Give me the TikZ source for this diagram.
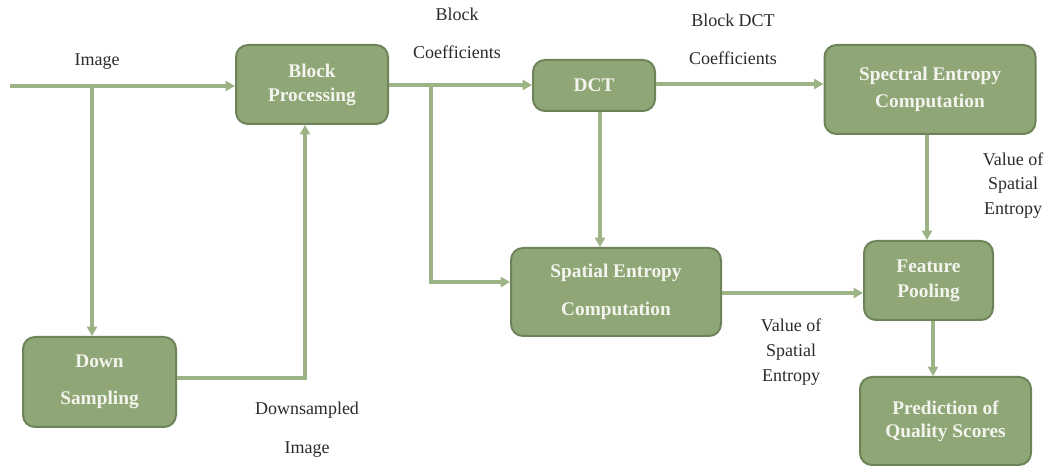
\documentclass[tikz,border=0pt]{standalone}
\usepackage{fontspec}
\setmainfont{Liberation Serif}
\usetikzlibrary{arrows.meta}
\definecolor{boxfill}{HTML}{8FA676}
\definecolor{boxedge}{HTML}{6D8358}
\definecolor{flow}{HTML}{9CB386}
\definecolor{boxtext}{HTML}{F4F4EE}
\definecolor{labeltext}{HTML}{2A2A2A}
\newcommand{\boxfont}[1]{\bfseries\fontsize{14.5}{#1}\selectfont}
\newcommand{\lblfont}[1]{\fontsize{13.5}{#1}\selectfont}
\begin{document}
\begin{tikzpicture}[x=0.75pt,y=-0.75pt,
  procbox/.style={draw=boxedge,line width=1.5pt,fill=boxfill,rounded corners=9pt,
    text=boxtext,align=center,inner sep=0pt,minimum width=#1},
  flowline/.style={draw=flow,line width=2.5pt,-{Triangle[length=7pt,width=7.5pt]}},
  lbl/.style={text=labeltext,align=center,inner sep=0pt}]
\useasboundingbox (0,0) rectangle (1053,466);

% process boxes
\node[procbox=152*0.75pt,minimum height=79*0.75pt,font=\boxfont{18}] (bp) at (312,84.5) {Block\\Processing};
\node[procbox=122*0.75pt,minimum height=51*0.75pt,font=\boxfont{18}] (dct) at (594,85.5) {DCT};
\node[procbox=211*0.75pt,minimum height=89*0.75pt,font=\boxfont{20.5}] (spec) at (930,89.5) {Spectral Entropy\\Computation};
\node[procbox=210*0.75pt,minimum height=88*0.75pt,font=\boxfont{28}] (spat) at (616,292) {Spatial Entropy\\Computation};
\node[procbox=129*0.75pt,minimum height=79*0.75pt,font=\boxfont{19}] (fp) at (928.5,280.5) {Feature\\Pooling};
\node[procbox=153*0.75pt,minimum height=90*0.75pt,font=\boxfont{28}] (ds) at (99.5,382) {Down\\Sampling};
\node[procbox=171*0.75pt,minimum height=88*0.75pt,font=\boxfont{17}] (pq) at (945.5,421) {Prediction of\\Quality Scores};

% junction points
\coordinate (in) at (10,86);
\coordinate (j1) at (92,86);
\coordinate (j2) at (431,85);
\coordinate (dsr) at (ds.east |- 0,378);

% connectors
\draw[flowline] (in) -- (bp.west |- in);
\draw[flowline] (j1) -- (j1 |- ds.north);
\draw[flowline] (dsr) -| (305,0 |- bp.south);
\draw[flowline] (bp.east |- j2) -- (dct.west |- j2);
\draw[flowline] (j2) |- (spat.west |- 0,282);
\draw[flowline] (600,0 |- dct.south) -- (600,0 |- spat.north);
\draw[flowline] (dct.east |- 0,84) -- (spec.west |- 0,84);
\draw[flowline] (927,0 |- spec.south) -- (927,0 |- fp.north);
\draw[flowline] (spat.east |- 0,293) -- (fp.west |- 0,293);
\draw[flowline] (933,0 |- fp.south) -- (933,0 |- pq.north);

% labels
\node[lbl,font=\lblfont{16}] (limg) at (97,62) {Image};
\node[lbl,font=\lblfont{28}] (lbc) at (457,33.5) {Block\\Coefficients};
\node[lbl,font=\lblfont{28.5}] (lbdct) at (733,39) {Block DCT\\Coefficients};
\node[lbl,font=\lblfont{18.5}] (lvs1) at (1013,185.5) {Value of\\Spatial\\Entropy};
\node[lbl,font=\lblfont{18.5}] (lvs2) at (791,352) {Value of\\Spatial\\Entropy};
\node[lbl,font=\lblfont{29}] (ldsi) at (307,429.5) {Downsampled\\Image};
\end{tikzpicture}
\end{document}
